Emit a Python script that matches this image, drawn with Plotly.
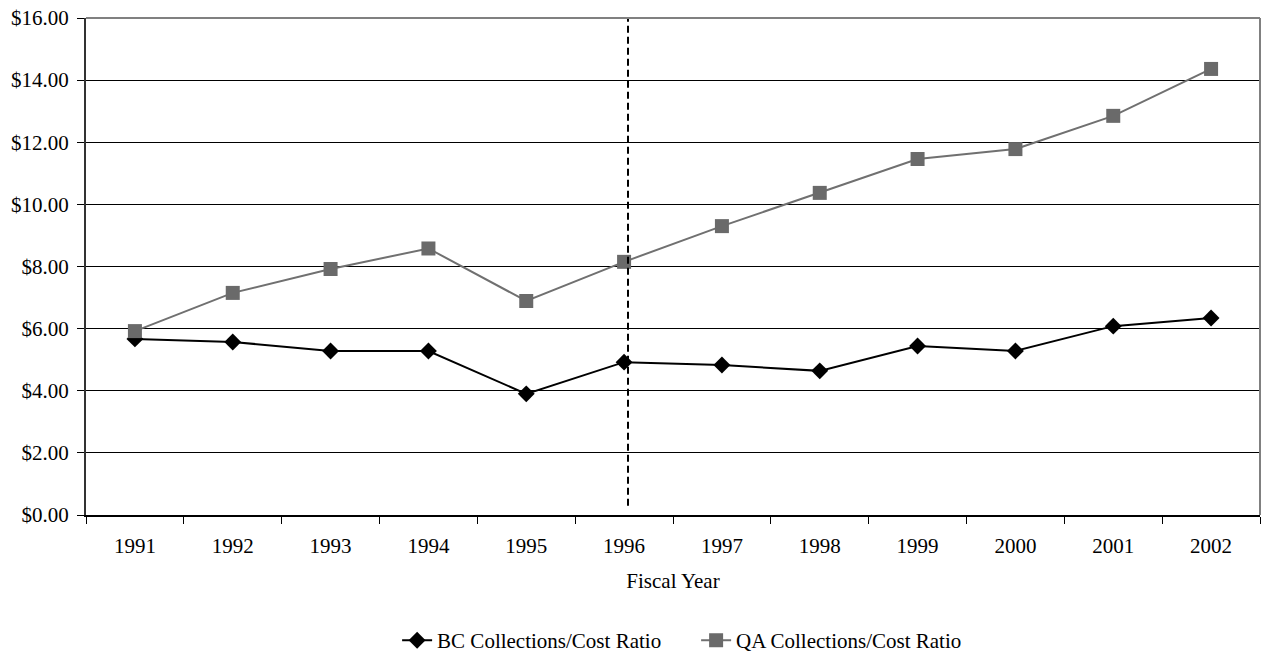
import plotly.graph_objects as go

years = ["1991", "1992", "1993", "1994", "1995", "1996", "1997", "1998", "1999", "2000", "2001", "2002"]
bc_ratio = [5.67, 5.57, 5.28, 5.28, 3.90, 4.92, 4.83, 4.64, 5.44, 5.28, 6.08, 6.34]
qa_ratio = [5.92, 7.15, 7.92, 8.58, 6.89, 8.15, 9.30, 10.37, 11.46, 11.78, 12.85, 14.36]
y_ticks = [0, 2, 4, 6, 8, 10, 12, 14, 16]

FONT = "Liberation Serif"
TXT = dict(family=FONT, size=21, color="#000000")

fig = go.Figure()
fig.add_trace(go.Scatter(
    x=years, y=bc_ratio, name="BC Collections/Cost Ratio",
    mode="lines+markers",
    line=dict(color="#000000", width=2),
    marker=dict(symbol="diamond", size=13, color="#000000"),
))
fig.add_trace(go.Scatter(
    x=years, y=qa_ratio, name="QA Collections/Cost Ratio",
    mode="lines+markers",
    line=dict(color="#707070", width=2),
    marker=dict(symbol="square", size=14, color="#6a6a6a"),
))

# dashed divider at FY 1996
fig.add_shape(type="line", xref="x", yref="y", x0=5.04, x1=5.04, y0=0.3, y1=16,
              line=dict(color="#000000", width=2, dash="7px,4px"))

fig.update_layout(
    width=1261, height=653,
    margin=dict(l=86, r=1, t=18, b=138, autoexpand=False),
    paper_bgcolor="white", plot_bgcolor="white",
    font=TXT,
    showlegend=True,
    legend=dict(orientation="h", x=0.265, xanchor="left",
                yref="container", y=0.019, yanchor="middle",
                font=TXT, tracegroupgap=0, entrywidth=254),
    xaxis=dict(
        type="category", range=[-0.5, 11.5],
        tickson="boundaries", ticks="outside", ticklen=7, tickcolor="#000000",
        tickfont=TXT, ticklabelstandoff=11,
        showline=True, linecolor="#000000", linewidth=2, mirror=False,
        showgrid=False, automargin=False,
        title=dict(text="Fiscal Year", font=TXT, standoff=16),
    ),
    yaxis=dict(
        range=[0, 16], tickvals=y_ticks,
        ticktext=[f"${v:.2f}" for v in y_ticks],
        ticks="outside", ticklen=7, tickcolor="#000000",
        tickfont=TXT, ticklabelstandoff=4,
        showline=True, linecolor="#333333", linewidth=2,
        showgrid=True, gridcolor="#000000", gridwidth=1,
        zeroline=False, automargin=False,
    ),
)

# gray frame on the top and right edges of the plot area
fig.add_shape(type="line", xref="paper", yref="paper", x0=0, x1=1, y0=1, y1=1,
              line=dict(color="#808080", width=2))
fig.add_shape(type="line", xref="paper", yref="paper", x0=1, x1=1, y0=0, y1=1,
              line=dict(color="#808080", width=2))

fig.write_html("out.html")
